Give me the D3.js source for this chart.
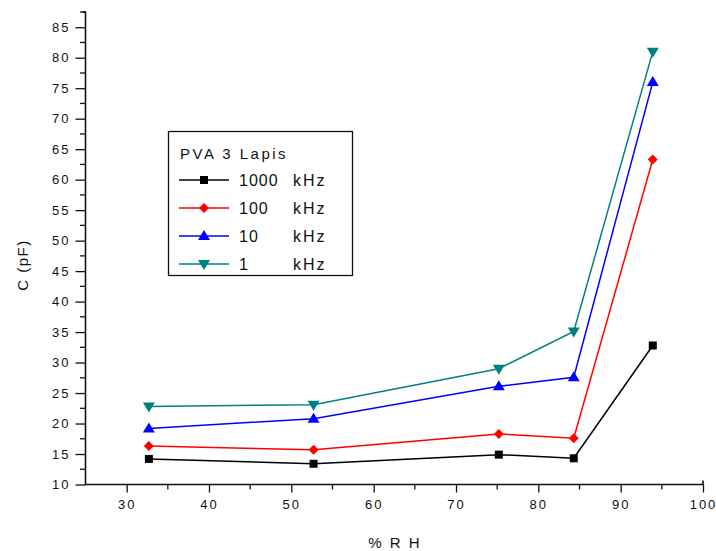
<!DOCTYPE html>
<html>
<head>
<meta charset="utf-8">
<script src="https://cdn.jsdelivr.net/npm/d3@7"></script>
<style>
body { margin: 0; background: #fff; }
text { font-family: "Liberation Sans", Arial, sans-serif; fill: #111; }
</style>
</head>
<body>
<script>
var width = 716,
    height = 551;

// data
var rh = [32.7, 52.7, 75.2, 84.3, 93.9];
var c1000 = [14.2, 13.4, 14.9, 14.3, 32.8];
var c100 = [16.3, 15.7, 18.3, 17.6, 63.3];
var c10 = [19.2, 20.8, 26.1, 27.6, 76.0];
var c1 = [22.8, 23.1, 29.0, 35.1, 81.0];
var seriesNames = ["1000", "100", "10", "1"];
var seriesColors = ["#000000", "#ff0000", "#0000ff", "#008080"];
var seriesSymbols = ["square", "diamond", "up", "down"];
var xTicks = [30, 40, 50, 60, 70, 80, 90, 100];
var yTicks = [10, 15, 20, 25, 30, 35, 40, 45, 50, 55, 60, 65, 70, 75, 80, 85];

var series = [c1000, c100, c10, c1];

var svg = d3.select('body')
    .append('svg')
    .attr('width', width)
    .attr('height', height);

var x = d3.scaleLinear().domain([25, 100]).range([85.5, 703]);
var y = d3.scaleLinear().domain([10, 87.5]).range([484.5, 12]);

// axes
var xAxis = d3.axisBottom(x).tickValues(xTicks).tickSize(8).tickPadding(7).tickFormat(d3.format('d'));
var yAxis = d3.axisLeft(y).tickValues(yTicks).tickSize(10).tickPadding(5).tickFormat(d3.format('d'));

var gx = svg.append('g').attr('transform', 'translate(0,484.5)').call(xAxis);
var gy = svg.append('g').attr('transform', 'translate(85.5,0)').call(yAxis);

[gx, gy].forEach(function(g) {
    g.select('.domain').remove();
    g.selectAll('line').attr('stroke', '#111').attr('stroke-width', 1.3);
    g.selectAll('text')
        .style('font-size', '13px')
        .style('letter-spacing', '2px')
        .attr('fill', '#111');
});

// minor ticks
var xMinor = d3.range(35, 100, 10);
var yMinor = d3.range(12.5, 88, 5);
svg.append('g').selectAll('line').data(xMinor).enter().append('line')
    .attr('x1', d => x(d)).attr('x2', d => x(d))
    .attr('y1', 484.5).attr('y2', 489.5)
    .attr('stroke', '#111').attr('stroke-width', 1.3);
svg.append('g').selectAll('line').data(yMinor).enter().append('line')
    .attr('x1', 85.5).attr('x2', 80)
    .attr('y1', d => y(d)).attr('y2', d => y(d))
    .attr('stroke', '#111').attr('stroke-width', 1.3);

// axis lines with little hooks at the ends
svg.append('path')
    .attr('d', 'M' + (x(25) - 3) + ',' + y(87.5) + 'H' + x(25) + 'V' + y(10) + 'H' + x(100) + 'V' + (y(10) - 4))
    .attr('fill', 'none').attr('stroke', '#111').attr('stroke-width', 1.6);

// axis titles
svg.append('text')
    .attr('x', 395).attr('y', 548)
    .attr('text-anchor', 'middle')
    .style('font-size', '15px').style('letter-spacing', '2px')
    .text('% R H');
svg.append('text')
    .attr('transform', 'translate(28,265) rotate(-90)')
    .attr('text-anchor', 'middle')
    .style('font-size', '15px').style('letter-spacing', '1.5px')
    .text('C (pF)');

function symbolPath(kind, cx, cy) {
    if (kind === 'square') return 'M' + (cx - 4) + ',' + (cy - 4) + 'h8v8h-8z';
    if (kind === 'diamond') return 'M' + cx + ',' + (cy - 5) + 'L' + (cx + 5) + ',' + cy + 'L' + cx + ',' + (cy + 5) + 'L' + (cx - 5) + ',' + cy + 'z';
    if (kind === 'up') return 'M' + cx + ',' + (cy - 6) + 'L' + (cx + 6) + ',' + (cy + 4) + 'L' + (cx - 6) + ',' + (cy + 4) + 'z';
    return 'M' + cx + ',' + (cy + 6) + 'L' + (cx + 6) + ',' + (cy - 4) + 'L' + (cx - 6) + ',' + (cy - 4) + 'z';
}

var line = d3.line().x(d => x(d[0])).y(d => y(d[1]));

series.forEach(function(vals, i) {
    var pts = rh.map((r, j) => [r, vals[j]]);
    svg.append('path')
        .datum(pts)
        .attr('d', line)
        .attr('fill', 'none')
        .attr('stroke', seriesColors[i])
        .attr('stroke-width', 1.5);
    svg.append('g').selectAll('path')
        .data(pts)
        .enter()
        .append('path')
        .attr('d', d => symbolPath(seriesSymbols[i], x(d[0]), y(d[1])))
        .attr('fill', seriesColors[i]);
});

// legend
var leg = svg.append('g');
leg.append('rect')
    .attr('x', 168.5).attr('y', 131.5).attr('width', 184).attr('height', 144)
    .attr('fill', 'none').attr('stroke', '#111').attr('stroke-width', 1.3);
leg.append('text')
    .attr('x', 180).attr('y', 159)
    .style('font-size', '15px').style('letter-spacing', '2.5px')
    .text('PVA 3 Lapis');
seriesNames.forEach(function(n, i) {
    var cy = 180 + i * 28;
    leg.append('line')
        .attr('x1', 179).attr('x2', 229).attr('y1', cy).attr('y2', cy)
        .attr('stroke', seriesColors[i]).attr('stroke-width', 1.5);
    leg.append('path')
        .attr('d', symbolPath(seriesSymbols[i], 204, cy))
        .attr('fill', seriesColors[i]);
    leg.append('text')
        .attr('x', 239).attr('y', cy + 6)
        .style('font-size', '16px').style('letter-spacing', '1px')
        .text(n);
    leg.append('text')
        .attr('x', 293).attr('y', cy + 6)
        .style('font-size', '16px').style('letter-spacing', '2px')
        .text('kHz');
});
</script>
</body>
</html>
